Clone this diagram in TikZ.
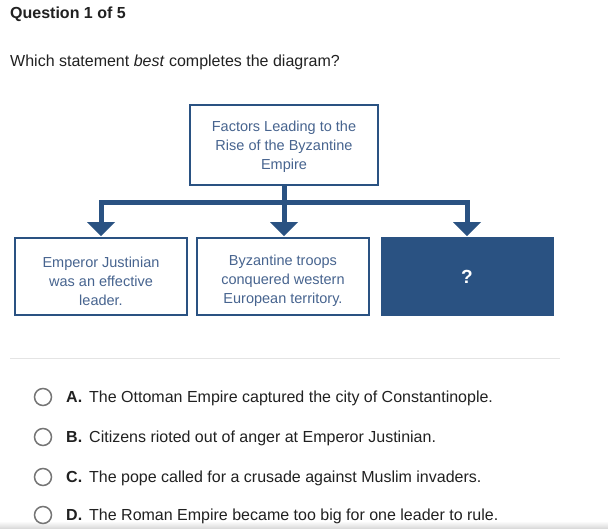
\documentclass[tikz,border=0pt]{standalone}
\usepackage{fontspec}
\setmainfont{Liberation Sans}
\definecolor{navy}{HTML}{2A5282}
\definecolor{boxtext}{HTML}{47648F}
\definecolor{ink}{HTML}{212121}
\definecolor{ringgray}{HTML}{757575}
\definecolor{rule}{HTML}{E4E4E4}
\tikzset{
  outlinebox/.style={draw=navy, line width=1.8pt, fill=white},
  filledbox/.style={fill=navy, draw=navy, line width=1.8pt},
  boxlabel/.style={text=boxtext, align=center, font=\fontsize{14.5}{19}\selectfont, inner sep=0pt},
  connector/.style={draw=navy, line width=5pt},
  tip/.style={fill=navy, draw=none},
  ring/.style={draw=ringgray, line width=1.5pt, circle, minimum size=17pt, inner sep=0pt},
  optletter/.style={anchor=base west, font=\fontsize{16}{19}\selectfont\bfseries, text=ink, inner sep=0pt},
  opttext/.style={anchor=base west, font=\fontsize{16}{19}\selectfont, text=ink, inner sep=0pt},
}
\begin{document}
\begin{tikzpicture}[x=1pt, y=-1pt]
\fill[white] (0,0) rectangle (608,528);
\useasboundingbox (0,0) rectangle (608,528);
% bottom shadow
\shade[top color=white, bottom color=black!14, draw=none] (0,521) rectangle (608,528);
% header
\node[anchor=base west, inner sep=0pt, font=\fontsize{16}{19}\selectfont\bfseries, text=ink] (title) at (10,18) {Question 1 of 5};
\node[anchor=base west, inner sep=0pt, font=\fontsize{16}{19}\selectfont, text=ink] (question) at (10,66) {Which statement \textit{best} completes the diagram?};
% boxes
\draw[outlinebox] (190,105) rectangle (378,185);
\node[boxlabel] (top) at (284,147) {Factors Leading to the\\Rise of the Byzantine\\Empire};
\draw[outlinebox] (15,238) rectangle (187,315);
\node[boxlabel] (left) at (101,281) {Emperor Justinian\\was an effective\\leader.};
\draw[outlinebox] (197,238) rectangle (369,315);
\node[boxlabel] (mid) at (283,281) {Byzantine troops\\conquered western\\European territory.};
\fill[filledbox] (382,238) rectangle (553,315);
\node[text=white, font=\fontsize{19}{22}\selectfont\bfseries, inner sep=0pt] (right) at (467,277) {?};
% connectors
\coordinate (stem) at (284,186);
\coordinate (hub) at (284,202);
\coordinate (lc) at (101,202);
\coordinate (rc) at (467,202);
\coordinate (lt) at (101,223);
\coordinate (mt) at (284,223);
\coordinate (rt) at (467,223);
\draw[connector] (stem) -- (mt);
\draw[connector, line join=miter] (lt) -- (lc) -- (rc) -- (rt);
\fill[tip] (87,222) -- (115,222) -- (101,236) -- cycle;
\fill[tip] (270,222) -- (298,222) -- (284,236) -- cycle;
\fill[tip] (453,222) -- (481,222) -- (467,236) -- cycle;
% separator
\draw[rule, line width=1pt] (10,358) -- (560,358);
% options
\node[ring] (ra) at (43,397) {};
\node[optletter] (la) at (66,402) {A.};
\node[opttext] (ta) at (89,402) {The Ottoman Empire captured the city of Constantinople.};
\node[ring] (rb) at (43,437) {};
\node[optletter] (lb) at (66,442) {B.};
\node[opttext] (tb) at (89,442) {Citizens rioted out of anger at Emperor Justinian.};
\node[ring] (rc2) at (43,477) {};
\node[optletter] (lc2) at (66,482) {C.};
\node[opttext] (tc) at (89,482) {The pope called for a crusade against Muslim invaders.};
\node[ring] (rd) at (43,515) {};
\node[optletter] (ld) at (66,520) {D.};
\node[opttext] (td) at (89,520) {The Roman Empire became too big for one leader to rule.};
\end{tikzpicture}
\end{document}
